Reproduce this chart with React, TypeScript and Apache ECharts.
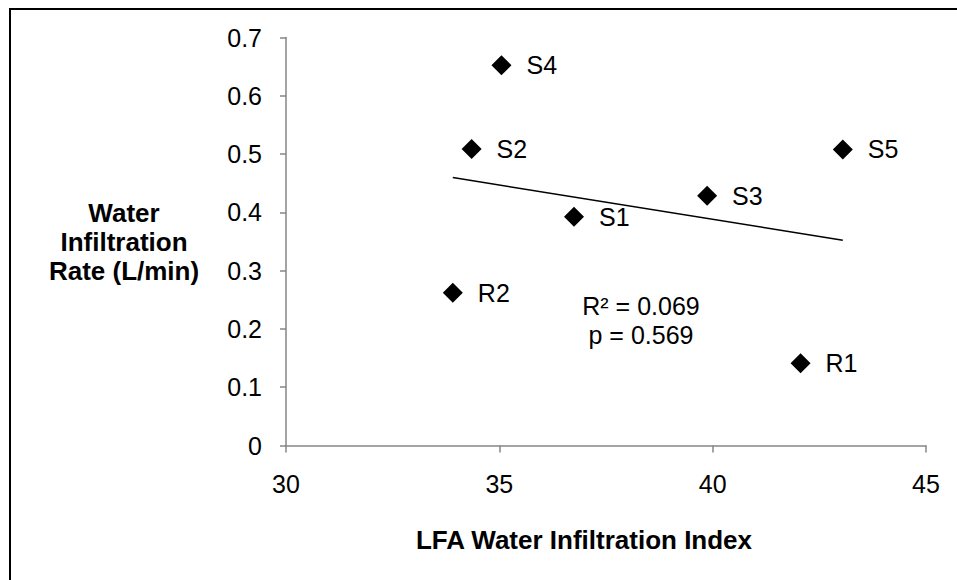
import React, { useEffect, useRef } from "react";
import * as echarts from "echarts";

// ---- data ----
const siteLabels = ["S1", "S2", "S3", "S4", "S5", "R1", "R2"];
const lfaIndex = [36.75, 34.35, 39.87, 35.05, 43.05, 42.06, 33.91];
const infiltrationRate = [0.3925, 0.5085, 0.4284, 0.6525, 0.508, 0.141, 0.262];
const xTicks = [30, 35, 40, 45];
const yTicks = [0, 0.1, 0.2, 0.3, 0.4, 0.5, 0.6, 0.7];
const statsLines = ["R² = 0.069", "p = 0.569"];
const xTitle = "LFA Water Infiltration Index";
const yTitleLines = ["Water", "Infiltration", "Rate (L/min)"];

const FONT = "'Liberation Sans', Arial, Helvetica, sans-serif";

function linearFit(xs: number[], ys: number[]) {
  const n = xs.length;
  const mx = xs.reduce((a, b) => a + b, 0) / n;
  const my = ys.reduce((a, b) => a + b, 0) / n;
  let sxy = 0;
  let sxx = 0;
  for (let i = 0; i < n; i++) {
    sxy += (xs[i] - mx) * (ys[i] - my);
    sxx += (xs[i] - mx) * (xs[i] - mx);
  }
  const slope = sxy / sxx;
  return { slope, intercept: my - slope * mx };
}

export default function App() {
  const ref = useRef<HTMLDivElement>(null);

  useEffect(() => {
    if (!ref.current) return;
    const chart = echarts.init(ref.current, null, { renderer: "svg" });

    const fit = linearFit(lfaIndex, infiltrationRate);
    const xMin = Math.min(...lfaIndex);
    const xMax = Math.max(...lfaIndex);
    const trend = [
      [xMin, fit.intercept + fit.slope * xMin],
      [xMax, fit.intercept + fit.slope * xMax],
    ];

    const axisGrey = "#868686";

    const option: any = {
      animation: false,
      backgroundColor: "#ffffff",
      textStyle: { fontFamily: FONT },
      grid: { left: 286, top: 37.5, width: 640, height: 408, containLabel: false },
      xAxis: {
        type: "value",
        min: xTicks[0],
        max: xTicks[xTicks.length - 1],
        interval: xTicks[1] - xTicks[0],
        axisLine: { show: true, lineStyle: { color: axisGrey, width: 1.5 } },
        axisTick: { show: true, inside: false, length: 7, lineStyle: { color: axisGrey, width: 1.5 } },
        splitLine: { show: false },
        axisLabel: { color: "#000", fontSize: 25, fontFamily: FONT, margin: 26 },
      },
      yAxis: {
        type: "value",
        min: yTicks[0],
        max: yTicks[yTicks.length - 1],
        interval: 0.1,
        axisLine: { show: true, lineStyle: { color: axisGrey, width: 1.5 } },
        axisTick: { show: true, inside: false, length: 6, lineStyle: { color: axisGrey, width: 1.5 } },
        splitLine: { show: false },
        axisLabel: {
          color: "#000",
          fontSize: 25,
          fontFamily: FONT,
          margin: 24,
          formatter: (v: number) => String(parseFloat(v.toFixed(1))),
        },
      },
      series: [
        {
          type: "line",
          data: trend,
          showSymbol: false,
          symbol: "none",
          lineStyle: { color: "#000", width: 1.5 },
          silent: true,
          z: 1,
        },
        {
          type: "scatter",
          data: lfaIndex.map((x, i) => ({ value: [x, infiltrationRate[i]], name: siteLabels[i] })),
          symbol: "diamond",
          symbolSize: 20,
          itemStyle: { color: "#000", opacity: 1 },
          label: {
            show: true,
            position: "right",
            distance: 15,
            formatter: "{b}",
            color: "#000",
            fontSize: 25,
            fontFamily: FONT,
          },
          z: 2,
        },
      ],
      graphic: [
        {
          type: "line",
          shape: { x1: 10, y1: 9, x2: 957, y2: 9 },
          style: { stroke: "#000", lineWidth: 2 },
        },
        {
          type: "line",
          shape: { x1: 10, y1: 8, x2: 10, y2: 580 },
          style: { stroke: "#000", lineWidth: 2 },
        },
        {
          type: "text",
          x: 641,
          y: 291,
          style: {
            text: statsLines.join("\n"),
            fill: "#000",
            font: `25px ${FONT}`,
            textAlign: "center",
            textVerticalAlign: "top",
            lineHeight: 29,
          },
        },
        {
          type: "text",
          x: 124,
          y: 198,
          style: {
            text: yTitleLines.join("\n"),
            fill: "#000",
            font: `bold 26px ${FONT}`,
            textAlign: "center",
            textVerticalAlign: "top",
            lineHeight: 29,
          },
        },
        {
          type: "text",
          x: 584,
          y: 540,
          style: {
            text: xTitle,
            fill: "#000",
            font: `bold 26px ${FONT}`,
            textAlign: "center",
            textVerticalAlign: "middle",
          },
        },
      ],
    };

    chart.setOption(option);
    return () => chart.dispose();
  }, []);

  return (
    <div
      ref={ref}
      style={{ position: "fixed", left: 0, top: 0, width: 957, height: 580, background: "#fff" }}
    />
  );
}
